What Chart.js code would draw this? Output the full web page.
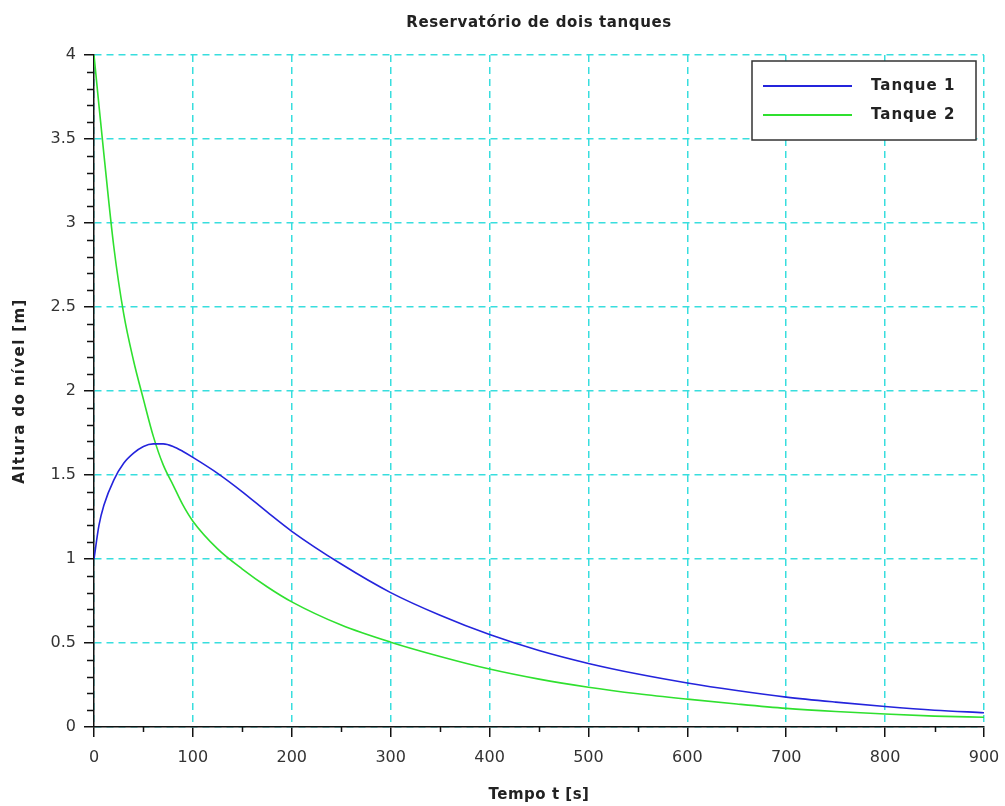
<!DOCTYPE html>
<html>
<head>
<meta charset="utf-8">
<script src="https://cdn.jsdelivr.net/npm/chart.js@4"></script>
<style>
  html, body { margin: 0; padding: 0; background: #fff; }
  #wrap { width: 1005px; height: 806px; }
</style>
</head>
<body>
<div id="wrap"><canvas id="chart" width="1005" height="806"></canvas></div>
<script>
/* ── Reservatório de dois tanques ── */

const tempo   = [0, 5, 10, 20, 30, 40, 50, 60, 70, 80, 90, 100, 125, 150, 175, 200, 250, 300, 350, 400, 450, 500, 550, 600, 650, 700, 750, 800, 850, 900];
const tanque1 = [1.0, 1.2, 1.32, 1.47, 1.57, 1.63, 1.67, 1.685, 1.685, 1.67, 1.64, 1.605, 1.51, 1.40, 1.28, 1.165, 0.97, 0.80, 0.665, 0.55, 0.455, 0.378, 0.315, 0.262, 0.217, 0.178, 0.148, 0.122, 0.10, 0.085];
const tanque2 = [4.0, 3.7, 3.41, 2.86, 2.46, 2.18, 1.95, 1.73, 1.56, 1.44, 1.32, 1.225, 1.06, 0.94, 0.835, 0.745, 0.607, 0.505, 0.42, 0.345, 0.285, 0.237, 0.198, 0.166, 0.137, 0.111, 0.092, 0.077, 0.065, 0.058];

const xTicks = [0, 100, 200, 300, 400, 500, 600, 700, 800, 900];
const yTicks = [0, 0.5, 1, 1.5, 2, 2.5, 3, 3.5, 4];

const GRID = '#38dede';
const FONT = 'DejaVu Sans';

const toPoints = ys => tempo.map((t, i) => ({ x: t, y: ys[i] }));

// titles, minor ticks and the legend box
const decorations = {
  id: 'decorations',
  afterDraw(chart) {
    const { ctx, chartArea: a, scales } = chart;
    const cx = (a.left + a.right) / 2;
    ctx.save();

    // minor ticks
    ctx.strokeStyle = '#111';
    ctx.lineWidth = 1.5;
    ctx.beginPath();
    for (let v = 0.1; v < 4; v += 0.1) {
      if (Math.abs(v * 2 - Math.round(v * 2)) < 1e-6) continue;
      const y = Math.round(scales.y.getPixelForValue(v)) + 0.5;
      ctx.moveTo(a.left - 7, y); ctx.lineTo(a.left, y);
    }
    for (let v = 50; v < 900; v += 100) {
      const x = Math.round(scales.x.getPixelForValue(v)) + 0.5;
      ctx.moveTo(x, a.bottom); ctx.lineTo(x, a.bottom + 5);
    }
    ctx.stroke();

    // titles
    ctx.fillStyle = '#222';
    ctx.textAlign = 'center';
    ctx.textBaseline = 'middle';
    ctx.font = `bold 15px "${FONT}"`;
    ctx.letterSpacing = '0.6px';
    ctx.fillText('Reservatório de dois tanques', cx, 23);
    ctx.letterSpacing = '0.5px';
    ctx.fillText('Tempo t [s]', cx, 795);
    ctx.letterSpacing = '1.4px';
    ctx.translate(20, (a.top + a.bottom) / 2);
    ctx.rotate(-Math.PI / 2);
    ctx.fillText('Altura do nível [m]', 0, 0);
    ctx.setTransform(1, 0, 0, 1, 0, 0);

    // legend
    const bx = 752, by = 61, bw = 224, bh = 79;
    ctx.fillStyle = '#fff';
    ctx.fillRect(bx, by, bw, bh);
    ctx.strokeStyle = '#333';
    ctx.lineWidth = 1.5;
    ctx.strokeRect(bx, by, bw, bh);
    ctx.font = `bold 15px "${FONT}"`;
    ctx.textAlign = 'left';
    ctx.letterSpacing = '1px';
    chart.data.datasets.forEach((ds, i) => {
      const y = by + 25 + i * 29;
      ctx.strokeStyle = ds.borderColor;
      ctx.lineWidth = 2;
      ctx.beginPath();
      ctx.moveTo(763, y); ctx.lineTo(852, y);
      ctx.stroke();
      ctx.fillStyle = '#222';
      ctx.fillText(ds.label, 871, y);
    });
    ctx.restore();
  }
};

const tickFmt = v => String(v);

new Chart(document.getElementById('chart'), {
  type: 'line',
  data: {
    datasets: [
      { label: 'Tanque 1', data: toPoints(tanque1), borderColor: '#2424dc', borderWidth: 1.6 },
      { label: 'Tanque 2', data: toPoints(tanque2), borderColor: '#2fe02f', borderWidth: 1.6 }
    ]
  },
  options: {
    responsive: false,
    animation: false,
    layout: { padding: { top: 55, right: 21, left: 0, bottom: 0 } },
    elements: { point: { radius: 0 }, line: { cubicInterpolationMode: 'monotone' } },
    plugins: { legend: { display: false }, title: { display: false }, tooltip: { enabled: false } },
    scales: {
      x: {
        type: 'linear', min: 0, max: 900,
        afterBuildTicks: s => { s.ticks = xTicks.map(v => ({ value: v })); },
        afterFit: s => { s.height = 79; s.paddingLeft = 0; s.paddingRight = 0; },
        ticks: { color: '#333', font: { family: FONT, size: 16 }, padding: 11, maxRotation: 0, callback: tickFmt },
        grid: { color: GRID, lineWidth: 1.5, tickColor: '#111', tickLength: 10, tickWidth: 1.5, tickBorderDash: [] },
        border: { display: true, color: '#111', width: 1.5, dash: [7, 5] }
      },
      y: {
        min: 0, max: 4,
        afterBuildTicks: s => { s.ticks = yTicks.map(v => ({ value: v })); },
        afterFit: s => { s.width = 94; s.paddingTop = 0; s.paddingBottom = 0; },
        ticks: { color: '#333', font: { family: FONT, size: 16 }, padding: 8, callback: tickFmt },
        grid: { color: GRID, lineWidth: 1.5, tickColor: '#111', tickLength: 10, tickWidth: 1.5, tickBorderDash: [] },
        border: { display: true, color: '#111', width: 1.5, dash: [7, 5] }
      }
    }
  },
  plugins: [decorations]
});
</script>
</body>
</html>
